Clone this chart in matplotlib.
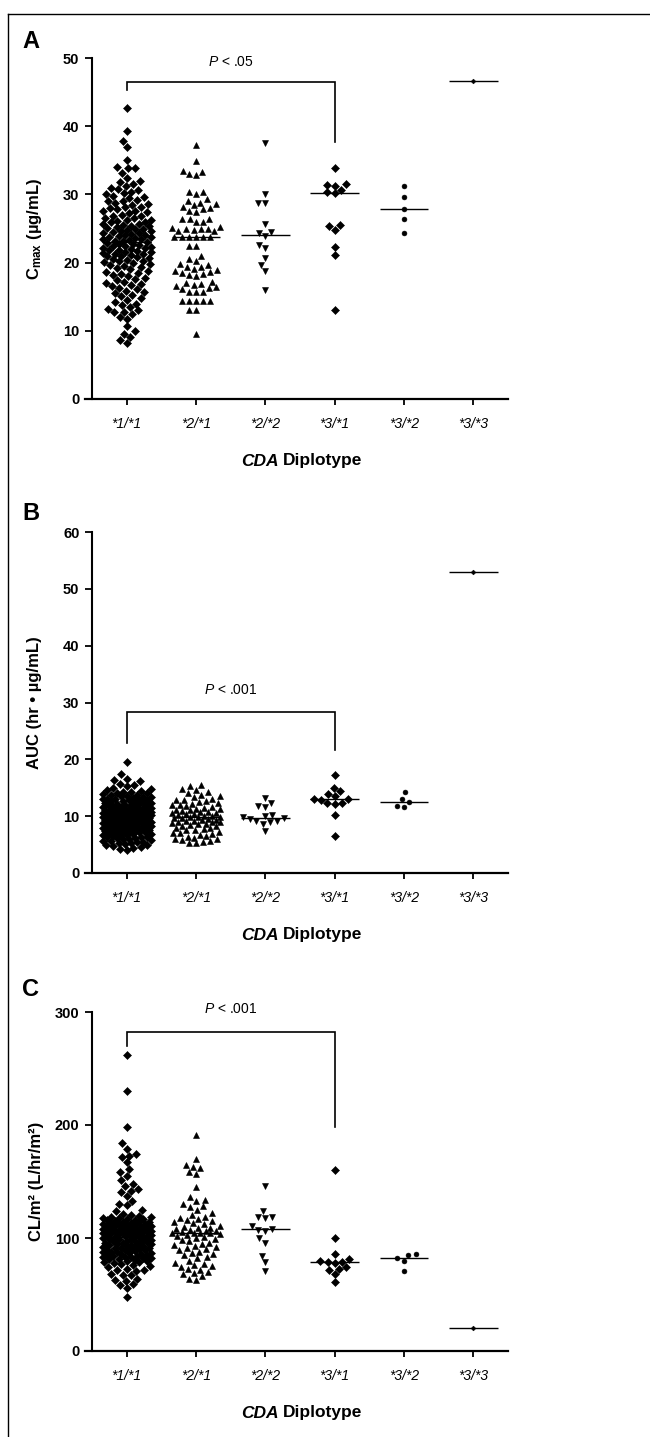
import numpy as np
import matplotlib
matplotlib.use('Agg')
import matplotlib.pyplot as plt
from matplotlib.lines import Line2D

FONT = ['Liberation Sans Narrow', 'Liberation Sans', 'DejaVu Sans']
plt.rcParams['font.family'] = FONT
plt.rcParams['mathtext.fontset'] = 'custom'
plt.rcParams['mathtext.rm'] = 'Liberation Sans'
plt.rcParams['mathtext.it'] = 'Liberation Sans:italic'
plt.rcParams['mathtext.bf'] = 'Liberation Sans:bold'

# ---------------- data ----------------
categories = ['*1/*1', '*2/*1', '*2/*2', '*3/*1', '*3/*2', '*3/*3']

cmax_11 = [42.7, 39.3, 37.8, 36.9, 35.0, 34.0, 33.9, 33.8, 33.2, 32.4, 32.0, 31.8, 31.5, 31.2, 31.0,
           30.8, 30.6, 30.4, 30.2, 30.0, 29.8, 29.6, 29.4, 29.2, 29.0, 28.8, 28.6, 28.5, 29.1, 28.1,
           28.2, 28.0, 27.8, 27.6, 27.4, 27.2, 27.0, 27.5, 26.8, 26.6, 26.5, 26.3, 26.1, 26.0, 26.9,
           26.2, 25.9, 25.7, 25.5, 25.4, 25.2, 25.1, 25.0, 25.6, 25.3, 24.9, 24.7, 24.6, 24.4, 24.3,
           24.1, 24.0, 24.8, 24.5, 24.2, 23.9, 23.7, 23.6, 23.4, 23.3, 23.2, 23.1, 23.0, 23.8, 23.5,
           22.9, 22.8, 22.6, 22.5, 22.3, 22.2, 22.0, 22.7, 22.4, 22.1, 21.9, 21.8, 21.6, 21.5, 21.3,
           21.1, 21.0, 21.7, 21.4, 21.2, 20.9, 20.7, 20.5, 20.3, 20.1, 20.0, 20.8, 20.4, 20.2, 19.8,
           19.6, 19.4, 19.2, 19.0, 19.5, 18.8, 18.6, 18.4, 18.2, 18.0, 18.5, 17.8, 17.6, 17.4, 17.1,
           17.0, 16.9, 16.7, 16.5, 16.3, 16.1, 15.9, 15.7, 15.5, 15.3, 15.1, 14.8, 14.5, 14.2, 14.0,
           13.8, 13.5, 13.2, 13.0, 12.8, 12.7, 12.5, 12.0, 11.8, 10.7, 9.9, 9.5, 9.1, 8.6, 8.2]
cmax_21 = [37.3, 34.9, 33.5, 33.3, 33.0, 32.8, 30.4, 30.4, 30.0, 29.3, 29.0, 28.8, 28.6, 28.4, 28.2,
           28.0, 27.8, 27.6, 27.4, 26.4, 26.4, 26.4, 25.9, 25.9, 25.2, 25.1, 25.0, 24.9, 24.9, 24.8,
           24.7, 24.7, 23.8, 23.8, 23.8, 23.8, 23.8, 23.8, 22.4, 22.4, 21.0, 20.6, 20.2, 19.8, 19.6,
           19.4, 19.3, 19.1, 18.9, 18.8, 18.6, 18.5, 18.3, 18.2, 18.1, 17.2, 17.0, 16.9, 16.7, 16.6,
           16.4, 16.3, 16.2, 15.7, 15.7, 15.7, 14.3, 14.3, 14.3, 14.3, 14.3, 13.1, 13.1, 9.6]
cmax_22 = [37.6, 30.1, 28.8, 28.8, 25.7, 24.5, 24.3, 23.9, 22.6, 22.1, 20.7, 19.6, 18.8, 16.0]
cmax_31 = [33.8, 31.5, 31.4, 31.3, 30.7, 30.3, 30.2, 25.5, 25.4, 24.8, 22.3, 21.1, 13.1]
cmax_32 = [31.3, 29.6, 27.9, 26.4, 24.3]
cmax_33 = [46.7]

auc_11 = [19.6, 17.4, 16.6, 16.4, 16.2, 15.6, 15.4, 15.3, 15.0, 14.8, 14.6, 14.5, 14.3, 14.1, 14.0,
          13.9, 13.8, 13.6, 13.5, 13.4, 13.3, 13.2, 13.1, 13.0, 12.9, 12.8, 12.7, 12.6, 12.5, 12.4,
          12.3, 12.2, 12.1, 12.0, 11.9, 11.8, 11.7, 11.6, 11.5, 11.4, 11.3, 11.2, 11.1, 11.0, 11.5,
          11.2, 10.9, 10.8, 10.7, 10.6, 10.5, 10.4, 10.3, 10.2, 10.1, 10.6, 10.3, 10.1, 10.8, 13.7,
          13.0, 12.5, 12.0, 11.8, 11.3, 11.0, 10.9, 10.7, 10.5, 10.4, 10.2, 10.1, 14.2, 12.9, 11.6,
          10.0, 9.9, 9.8, 9.7, 9.6, 9.5, 9.4, 9.3, 9.2, 9.1, 9.0, 9.9, 9.7, 9.5, 9.3,
          9.1, 8.9, 8.8, 8.7, 8.6, 8.5, 8.4, 8.3, 8.2, 8.1, 8.0, 8.8, 8.5, 8.2, 8.6,
          7.9, 7.8, 7.7, 7.6, 7.5, 7.4, 7.3, 7.2, 7.1, 7.0, 7.8, 7.4, 7.2, 6.9, 6.8,
          6.7, 6.6, 6.5, 6.4, 6.3, 6.2, 6.1, 6.0, 6.7, 6.4, 5.9, 5.8, 5.6, 5.5, 5.4,
          5.3, 5.2, 5.0, 5.7, 5.1, 4.9, 4.8, 4.6, 4.4, 4.3, 4.0, 9.6, 9.0, 8.0, 7.5]
auc_21 = [15.5, 15.3, 14.8, 14.6, 14.2, 14.0, 13.7, 13.5, 13.3, 13.1, 12.9, 12.7, 12.5, 12.3, 12.2,
          12.0, 11.8, 11.6, 11.5, 11.3, 11.2, 11.0, 10.9, 10.8, 10.6, 10.5, 10.4, 10.3, 10.2, 10.1,
          10.0, 9.9, 12.8, 11.9, 11.1, 10.7, 9.8, 9.8, 9.7, 9.6, 9.5, 9.4, 9.3, 9.2, 9.1,
          9.0, 8.9, 8.8, 8.6, 8.5, 8.3, 8.2, 8.0, 7.9, 7.7, 7.5, 7.3, 7.1, 7.0, 6.8,
          6.6, 6.4, 6.2, 6.0, 5.9, 5.8, 5.6, 5.5, 5.3, 5.2, 8.7, 7.6, 6.5, 9.0]
auc_22 = [13.2, 12.3, 11.8, 11.6, 10.2, 10.0, 9.8, 9.6, 9.5, 9.2, 9.1, 9.0, 8.6, 7.4]
auc_31 = [17.2, 15.0, 14.4, 13.9, 13.6, 13.1, 13.0, 12.9, 12.4, 12.3, 12.2, 10.2, 6.5]
auc_32 = [14.2, 13.0, 12.5, 11.8, 11.6]
auc_33 = [53.0]

cl_11 = [262, 230, 198, 184, 179, 174, 173, 172, 167, 161, 158, 155, 151, 148, 146,
         143, 142, 141, 137, 133, 130, 129, 125, 124, 121,
         120, 119.5, 119, 118.5, 118, 117, 116.5, 116, 115, 114.5, 114, 113, 112.5, 112, 111.5,
         111, 110.5, 110, 109.5, 109, 108.5, 108, 107.5, 107, 106.5, 106, 105.5, 105, 104.5, 104,
         103.5, 103, 102.5, 102, 101.5, 117.5, 115.5, 113.5, 110.2, 108.2, 106.2, 104.2, 102.2, 111.2, 109.2,
         105.2, 103.2, 107.2, 112.2, 114.2, 101, 101,
         100.5, 100, 99.5, 99, 98.5, 98, 97.5, 97, 96.5, 96, 95.5, 95, 94.5, 94, 93.5,
         93, 92.5, 92, 91.5, 91, 90.5, 90, 89.5, 89, 88.5, 88, 87.5, 87, 86.5, 86,
         85.5, 85, 84.5, 84, 83.5, 83, 82.5, 82, 81.5, 81, 80.5, 80, 79.5, 79, 78.5,
         78, 77, 76, 75, 74, 73, 72, 71.3, 71, 68, 67.5, 67, 64, 63, 62,
         59, 58.5, 55.6, 48, 99.2, 97.2, 95.2, 93.2, 91.2, 89.2, 87.2, 85.2, 83.2]
cl_21 = [191, 170, 165, 163, 162, 158, 157, 145, 136, 134, 133, 130, 128, 127, 125,
         122, 120, 119, 118, 117, 116, 115, 114, 113, 112, 111, 110, 109, 108.5, 108,
         107, 106.5, 106, 105, 104.8, 104.5, 104, 104, 103.5, 103, 102, 101, 100, 99, 98,
         97, 96, 95, 94, 93, 92, 91, 90, 89, 88, 87, 86, 85, 83, 82,
         80, 78, 77, 76, 75, 74, 73, 72, 70, 69, 68, 66, 64, 63]
cl_22 = [146, 124, 119, 118.5, 118, 110.5, 108, 107.5, 106, 99.7, 96, 84, 78.4, 71]
cl_31 = [160, 100, 86, 81, 80, 79, 79, 78, 74, 73, 72, 68, 61]
cl_32 = [86, 85, 82, 80, 71]
cl_33 = [20]

# ---------------- styles ----------------
marker_styles = ['D', '^', 'v', 'D', 'o', 'D']
marker_sizes = [3.6, 4.2, 4.2, 3.6, 3.5, 2.4]

panels = [
    dict(letter='A', groups=[cmax_11, cmax_21, cmax_22, cmax_31, cmax_32, cmax_33],
         ymax=50, yticks=[0, 10, 20, 30, 40, 50],
         ylabel=r'$\mathbf{C}_{\mathbf{max}}$ (µg/mL)',
         bracket=(45.3, 46.5, 37.7), ptext=r'$\mathit{P}$ < .05', pty=49.4,
         top_px=58, bot_px=399, letter_px=41, ylab_x=34),
    dict(letter='B', groups=[auc_11, auc_21, auc_22, auc_31, auc_32, auc_33],
         ymax=60, yticks=[0, 10, 20, 30, 40, 50, 60],
         ylabel='AUC (hr • µg/mL)',
         bracket=(22.9, 28.3, 21.7), ptext=r'$\mathit{P}$ < .001', pty=32.2,
         top_px=532, bot_px=873, letter_px=513, ylab_x=35),
    dict(letter='C', groups=[cl_11, cl_21, cl_22, cl_31, cl_32, cl_33],
         ymax=300, yticks=[0, 100, 200, 300],
         ylabel='CL/m² (L/hr/m²)',
         bracket=(270, 282, 198), ptext=r'$\mathit{P}$ < .001', pty=302.5,
         top_px=1012, bot_px=1351, letter_px=989, ylab_x=37),
]

W, H = 650, 1437
fig = plt.figure(figsize=(W / 100, H / 100), dpi=100)
fig.patch.set_facecolor('white')

AX_LEFT, AX_W = 85, 423
XMIN, XMAX = -0.6, 5.5


def swarm_offsets(ypx, d, cap):
    ypx = np.asarray(ypx, float)
    order = np.argsort(ypx, kind='stable')
    px_list, py_list = [], []
    out = np.zeros(len(ypx))
    for i in order:
        y = ypx[i]
        cands = [0.0]
        for qx, qy in zip(px_list, py_list):
            dy = abs(qy - y)
            if dy < d:
                dx = np.sqrt(d * d - dy * dy)
                cands += [qx + dx, qx - dx]
        cands = sorted(set(cands), key=lambda c: (abs(c), c))
        chosen = None
        for c in cands:
            if abs(c) > cap:
                break
            ok = True
            for qx, qy in zip(px_list, py_list):
                if (c - qx) ** 2 + (y - qy) ** 2 < d * d - 1e-6:
                    ok = False
                    break
            if ok:
                chosen = c
                break
        if chosen is None:
            grid = np.linspace(-cap, cap, 25)
            best, bestd = 0.0, -1
            for c in grid:
                md = min(np.hypot(c - qx, y - qy) for qx, qy in zip(px_list, py_list))
                if md > bestd + 1e-9:
                    best, bestd = c, md
            chosen = best
        out[i] = chosen
        px_list.append(chosen)
        py_list.append(y)
    return out


for p in panels:
    bottom = 1 - p['bot_px'] / H
    height = (p['bot_px'] - p['top_px']) / H
    ax = fig.add_axes([AX_LEFT / W, bottom, AX_W / W, height])
    ax.set_xlim(XMIN, XMAX)
    ax.set_ylim(0, p['ymax'])
    ax.set_facecolor('none')

    for s in ['top', 'right']:
        ax.spines[s].set_visible(False)
    ax.spines['left'].set_position(('data', -0.5))
    ax.spines['left'].set_linewidth(1.5)
    ax.spines['bottom'].set_linewidth(1.6)

    ax.set_yticks(p['yticks'])
    ax.set_yticklabels([str(t) for t in p['yticks']], fontweight='bold')
    ax.set_xticks(range(len(categories)))
    ax.set_xticklabels(categories, fontstyle='italic')
    ax.tick_params(axis='y', direction='out', length=5, width=1.3, labelsize=10.5, pad=4)
    ax.tick_params(axis='x', direction='out', length=4, width=1.3, labelsize=10, pad=9)

    t0 = ax.transData.transform([[0, 0], [1, 1]])
    px_per_x = t0[1, 0] - t0[0, 0]
    px_per_y = t0[1, 1] - t0[0, 1]

    for gi, vals in enumerate(p['groups']):
        vals = np.asarray(vals, float)
        offs = swarm_offsets(vals * px_per_y, d=7.2, cap=24)
        xs = gi + offs / px_per_x
        ax.plot(xs, vals, linestyle='none', marker=marker_styles[gi],
                ms=marker_sizes[gi], color='black', mec='black', mew=0.4, zorder=3)
        med = np.median(vals)
        ax.hlines(med, gi - 0.35, gi + 0.35, color='black', lw=1.0, zorder=2)

    lo_l, top, lo_r = p['bracket']
    ax.plot([0, 0, 3, 3], [lo_l, top, top, lo_r], color='black', lw=1.2,
            clip_on=False, solid_joinstyle='miter')
    ax.text(1.5, p['pty'], p['ptext'], ha='center', va='center', fontsize=10,
            clip_on=False)

    fig.text(22 / W, 1 - p['letter_px'] / H, p['letter'], ha='left', va='center',
             fontsize=17, fontweight='bold', family=['Liberation Sans', 'DejaVu Sans'])

    fig.text(p['ylab_x'] / W, 1 - (p['top_px'] + p['bot_px']) / 2 / H, p['ylabel'],
             rotation=90, ha='center', va='center', fontsize=12, fontweight='bold')

    xl_y = 1 - (p['bot_px'] + 62) / H
    t1 = fig.text(241 / W, xl_y, 'CDA', ha='left', va='center', fontsize=12.5,
                  fontweight='bold', fontstyle='italic')
    ax.annotate('Diplotype', xy=(1, 0), xycoords=t1, xytext=(3, 0),
                textcoords='offset points', ha='left', va='bottom',
                fontsize=12.5, fontweight='bold', annotation_clip=False)

fig.add_artist(Line2D([8 / W, 8 / W], [0, 1 - 14 / H], transform=fig.transFigure,
                      color='black', lw=1.0))
fig.add_artist(Line2D([8 / W, 1], [1 - 14 / H, 1 - 14 / H], transform=fig.transFigure,
                      color='black', lw=1.0))

fig.savefig('out.png', dpi=100, facecolor='white')
